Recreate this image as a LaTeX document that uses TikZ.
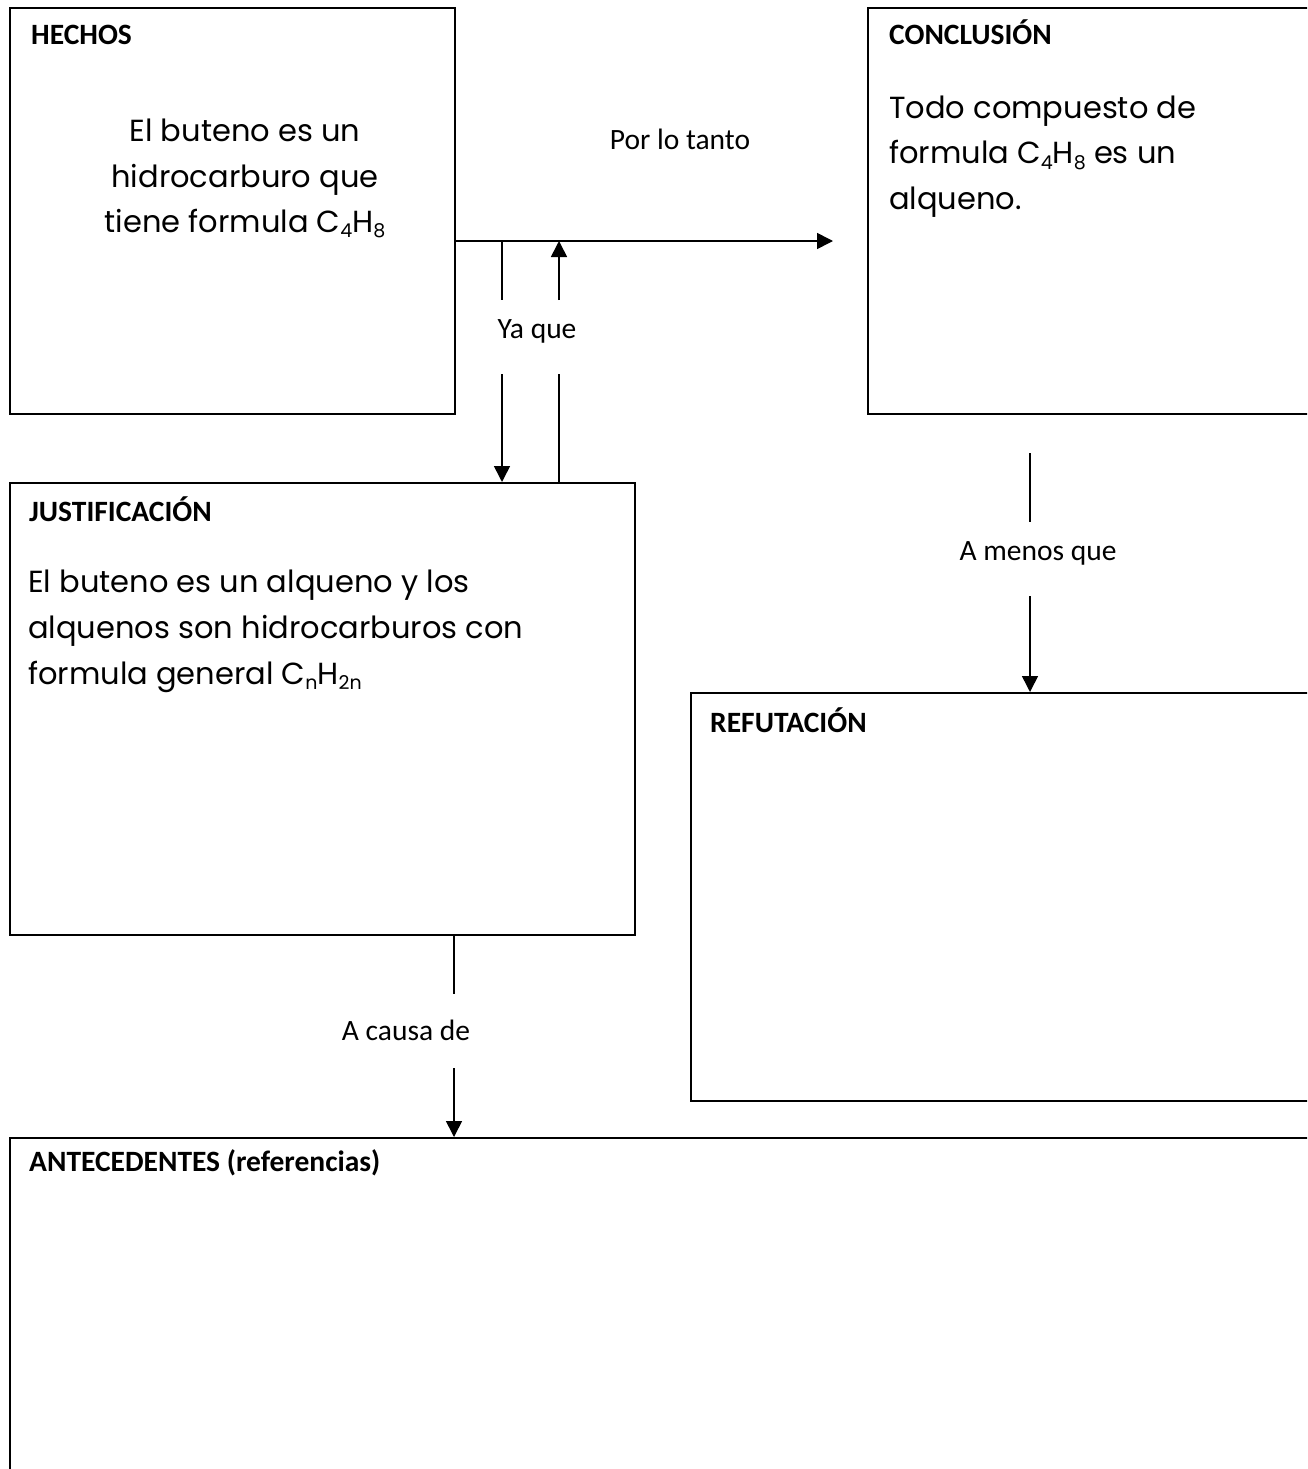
\documentclass[tikz,border=0pt]{standalone}
\usepackage{fontspec}
\setmainfont{Carlito}
\newfontfamily\bodyfont{Poppins}
\usetikzlibrary{arrows.meta}

% chemical subscript, set small and lowered
\newcommand{\chemsub}[1]{\raisebox{-0.3ex}{\fontsize{19}{19}\selectfont #1}}

\tikzset{
  panel/.style={draw, line width=1.7pt, anchor=north west, inner sep=0pt},
  heading/.style={anchor=base west, inner sep=0pt, font=\fontsize{29.5}{29.5}\selectfont\bfseries},
  bodyline/.style={inner sep=0pt, font=\bodyfont\fontsize{30.5}{30.5}\selectfont},
  linklabel/.style={inner sep=0pt, font=\fontsize{29.5}{29.5}\selectfont},
  link/.style={line width=1.6pt},
  linkarrow/.style={line width=1.6pt, -{Triangle[length=16pt,width=16pt]}},
}

\begin{document}
\begin{tikzpicture}[x=1pt, y=-1pt]
  \useasboundingbox (0,0) rectangle (1307,1469);
  \clip (0,0) rectangle (1307,1469);
  \fill[white] (0,0) rectangle (1307,1469);

  % the five panels
  \node[panel, minimum width=445pt, minimum height=406pt] (hechos) at (9,7) {};
  \node[panel, minimum width=470pt, minimum height=406pt] (concl)  at (867,7) {};
  \node[panel, minimum width=625pt, minimum height=452pt] (justif) at (9,482) {};
  \node[panel, minimum width=640pt, minimum height=408pt] (refut)  at (690,692) {};
  \node[panel, minimum width=1320pt, minimum height=400pt] (antec) at (9,1137) {};

  % headings
  \node[heading] (hechosH) at (31,45) {HECHOS};
  \node[heading] (conclH)  at (889,45) {CONCLUSIÓN};
  \node[heading] (justifH) at (29,521) {JUSTIFICACIÓN};
  \node[heading] (refutH)  at (710,732) {REFUTACIÓN};
  \node[heading] (antecH)  at (29,1171) {ANTECEDENTES (referencias)};

  % panel texts
  \node[bodyline, anchor=base] (h1) at (245,142) {El buteno es un};
  \node[bodyline, anchor=base] (h2) at (245,187) {hidrocarburo que};
  \node[bodyline, anchor=base] (h3) at (245,232) {tiene formula C\chemsub{4}H\chemsub{8}};

  \node[bodyline, anchor=base west] (c1) at (889,119) {Todo compuesto de};
  \node[bodyline, anchor=base west] (c2) at (889,164) {formula C\chemsub{4}H\chemsub{8} es un};
  \node[bodyline, anchor=base west] (c3) at (889,209) {alqueno.};

  \node[bodyline, anchor=base west] (j1) at (28,592) {El buteno es un alqueno y los};
  \node[bodyline, anchor=base west] (j2) at (28,638) {alquenos son hidrocarburos con};
  \node[bodyline, anchor=base west] (j3) at (28,684) {formula general C\chemsub{n}H\chemsub{2n}};

  % link labels
  \node[linklabel] (porlotanto) at (680,139) {Por lo tanto};
  \node[linklabel] (yaque)      at (537,331) {Ya que};
  \node[linklabel] (amenos)     at (1038,553) {A menos que};
  \node[linklabel] (acausa)     at (406,1030) {A causa de};

  % "Por lo tanto": facts to conclusion
  \coordinate (thenEnd) at (833,241);
  \draw[linkarrow] (hechos.east |- thenEnd) -- (thenEnd);

  % "Ya que": warrant loop between the main link and the justification
  \coordinate (downTop) at (502,241);
  \coordinate (downA)   at (502,300);
  \coordinate (downB)   at (502,374);
  \coordinate (upTop)   at (559,241);
  \coordinate (upA)     at (559,300);
  \coordinate (upB)     at (559,374);
  \draw[link] (downTop) -- (downA);
  \draw[linkarrow] (downB) -- (downB |- justif.north);
  \draw[link] (upB |- justif.north) -- (upB);
  \draw[linkarrow] (upA) -- (upTop);

  % "A menos que": conclusion to rebuttal
  \coordinate (rebA) at (1030,453);
  \coordinate (rebB) at (1030,522);
  \coordinate (rebC) at (1030,596);
  \draw[link] (rebA) -- (rebB);
  \draw[linkarrow] (rebC) -- (rebC |- refut.north);

  % "A causa de": justification to backing
  \coordinate (backB) at (454,994);
  \coordinate (backC) at (454,1068);
  \draw[link] (backB |- justif.south) -- (backB);
  \draw[linkarrow] (backC) -- (backC |- antec.north);
\end{tikzpicture}
\end{document}
